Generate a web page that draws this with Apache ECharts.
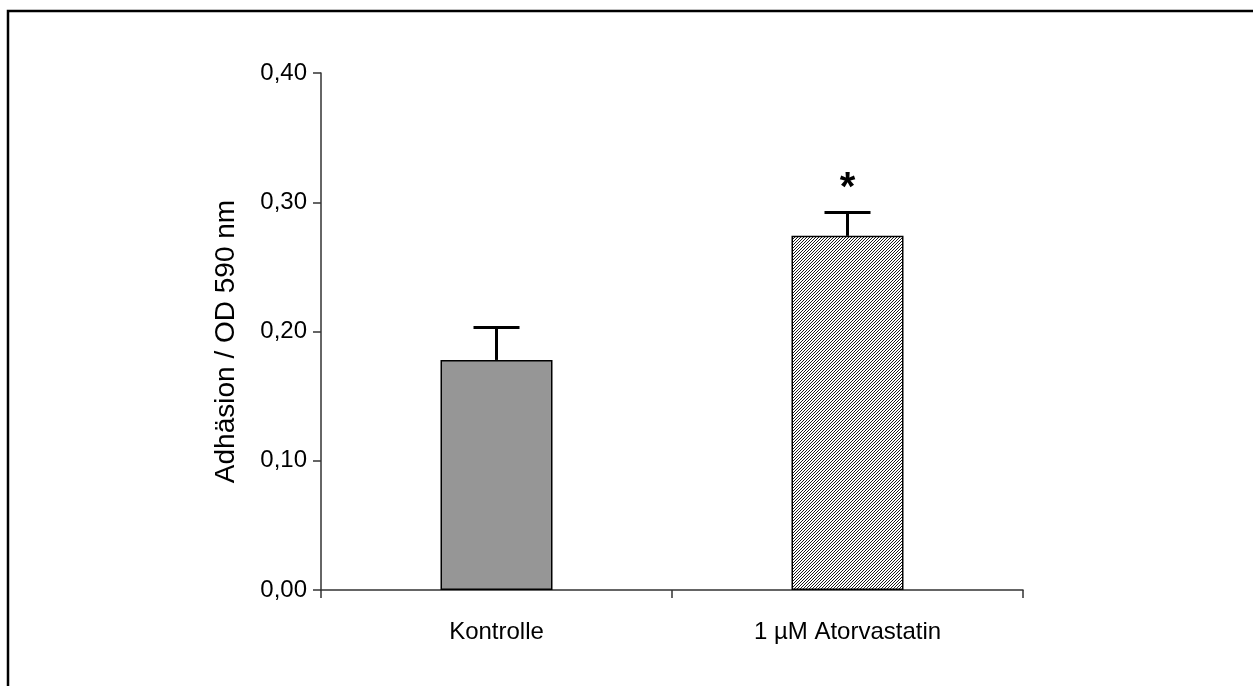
<!DOCTYPE html>
<html>
<head>
<meta charset="utf-8">
<script src="https://cdn.jsdelivr.net/npm/echarts@6/dist/echarts.min.js"></script>
<style>
  html, body { margin: 0; padding: 0; background: #fff; }
  #chart { width: 1253px; height: 686px; }
</style>
</head>
<body>
<div id="chart"></div>
<script>
// Adhesion measured as optical density at 590 nm
const categories = ['Kontrolle', '1 µM Atorvastatin'];
const meanValues = [0.178, 0.274];
const upperError = [0.203, 0.292];   // mean + SEM
const significance = ['', '*'];
const yTicks = [0, 0.1, 0.2, 0.3, 0.4];

// Fine diagonal hatch fill for the treated group
function hatchPattern() {
  const n = 3;
  const c = document.createElement('canvas');
  c.width = n; c.height = n;
  const g = c.getContext('2d');
  g.fillStyle = '#ffffff';
  g.fillRect(0, 0, n, n);
  g.fillStyle = '#1a1a1a';
  // one dark pixel per row, shifted each row -> diagonal stripes
  for (let y = 0; y < n; y++) {
    g.fillRect((n - 1 - y), y, 1, 1);
  }
  return { image: c, repeat: 'repeat' };
}

const barFills = ['#969696', hatchPattern()];

const chart = echarts.init(document.getElementById('chart'), null, { renderer: 'canvas' });

chart.setOption({
  animation: false,
  backgroundColor: '#ffffff',
  textStyle: { fontFamily: 'Liberation Sans, Arial, sans-serif' },
  graphic: [{
    type: 'rect',
    shape: { x: 8, y: 11, width: 1300, height: 800 },
    style: { fill: 'none', stroke: '#000', lineWidth: 2.5 },
    silent: true
  }],
  grid: { left: 321, right: 230, top: 73, bottom: 96 },
  xAxis: {
    type: 'category',
    data: categories,
    axisLine: { lineStyle: { color: '#333', width: 1.5 } },
    axisTick: { show: true, inside: false, length: 8, alignWithLabel: false, lineStyle: { color: '#333', width: 1.5 } },
    axisLabel: { color: '#000', fontSize: 24, margin: 30 }
  },
  yAxis: {
    type: 'value',
    min: 0, max: 0.4, interval: 0.1,
    name: 'Adhäsion / OD 590 nm',
    nameLocation: 'middle',
    nameGap: 81,
    nameTextStyle: { color: '#000', fontSize: 28, padding: [0, 20, 0, 0] },
    axisLine: { show: true, lineStyle: { color: '#333', width: 1.5 } },
    axisTick: { show: true, length: 8, lineStyle: { color: '#333', width: 1.5 } },
    splitLine: { show: false },
    axisLabel: {
      color: '#000', fontSize: 24, margin: 14,
      formatter: v => (yTicks.indexOf(Math.round(v * 10) / 10) >= 0 ? v.toFixed(2).replace('.', ',') : '')
    }
  },
  series: [{
    type: 'bar',
    data: meanValues.map((v, i) => ({
      value: v,
      itemStyle: { color: barFills[i], borderColor: '#000', borderWidth: 1.5 }
    })),
    barWidth: 112
  }, {
    type: 'custom',
    data: meanValues.map((v, i) => [i, v, upperError[i]]),
    z: 5,
    renderItem: function (params, api) {
      const i = api.value(0);
      const base = api.coord([i, api.value(1)]);
      const top = api.coord([i, api.value(2)]);
      const half = 23;
      const children = [{
        type: 'line',
        shape: { x1: base[0], y1: base[1], x2: top[0], y2: top[1] },
        style: { stroke: '#000', lineWidth: 3 }
      }, {
        type: 'line',
        shape: { x1: top[0] - half, y1: top[1], x2: top[0] + half, y2: top[1] },
        style: { stroke: '#000', lineWidth: 3 }
      }];
      if (significance[i]) {
        children.push({
          type: 'text',
          style: {
            text: significance[i], x: top[0], y: top[1] - 24,
            fill: '#000', font: 'bold 40px Liberation Sans, Arial, sans-serif',
            align: 'center', verticalAlign: 'middle'
          }
        });
      }
      return { type: 'group', children: children };
    }
  }]
});
</script>
</body>
</html>
